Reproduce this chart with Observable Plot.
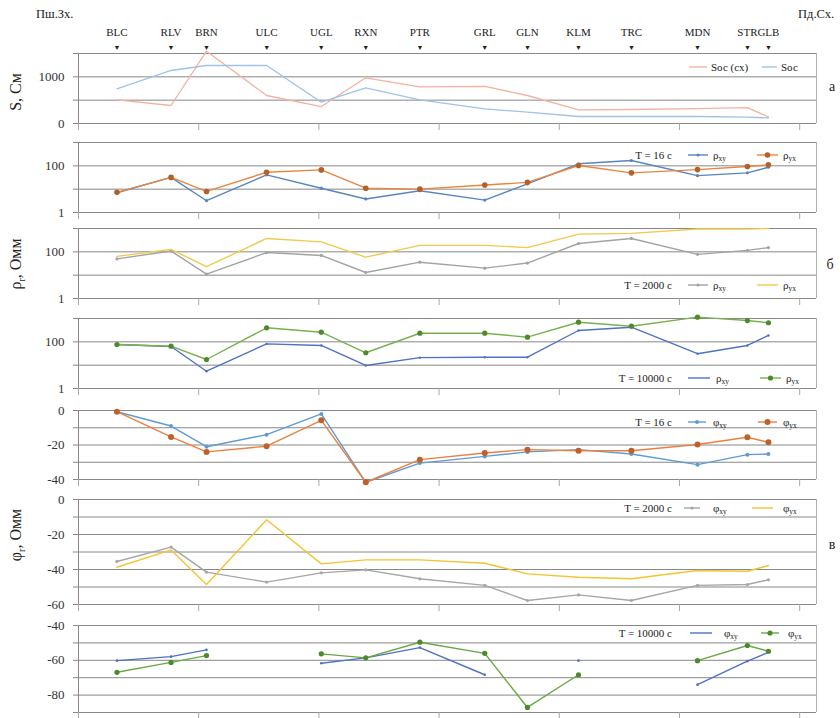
<!DOCTYPE html>
<html>
<head>
<meta charset="utf-8">
<script src="https://cdn.jsdelivr.net/npm/d3@7"></script>
<script src="https://cdn.jsdelivr.net/npm/@observablehq/plot@0.6"></script>
<style>
  html, body { margin: 0; padding: 0; background: #fff; }
  #chart { position: relative; width: 840px; height: 718px; overflow: hidden; }
  #chart svg { position: absolute; left: 0; }
  #chart svg, #chart svg text { font-family: "Liberation Serif", "Times New Roman", "DejaVu Serif", serif; }
</style>
</head>
<body>
<div id="chart"></div>
<script>
// Profile stations (west → east) and their distance along the profile, km
const stations = ["BLC","RLV","BRN","ULC","UGL","RXN","PTR","GRL","GLN","KLM","TRC","MDN","STR","GLB"];
const distance = [32, 77, 106.5, 156.5, 202, 239, 284, 338, 373.5, 416, 460, 515, 556.5, 574];

// а) total longitudinal conductance, См
const sOcSx = [507, 386, 1550, 600, 364, 980, 785, 795, 600, 293, 300, 320, 340, 140];
const sOc   = [743, 1136, 1243, 1243, 457, 765, 507, 315, 243, 150, 150, 150, 135, 120];

// б) apparent resistivity, Омм
const rhoXy16    = [7, 32, 3.2, 41, 11, 3.8, 8.6, 3.4, 17, 122, 169, 38, 50, 87];
const rhoYx16    = [7.3, 32, 8, 53, 67, 11, 10, 15, 19.6, 103, 50, 69, 93, 110];
const rhoXy2000  = [50, 108, 11, 93, 70, 13, 36, 20, 33, 228, 374, 78, 116, 152];
const rhoYx2000  = [64, 128, 23, 374, 268, 59, 190, 190, 152, 575, 617, 950, 950, 1000];
const rhoXy10000 = [77, 63, 5.5, 82, 70, 9.7, 21, 22, 22, 306, 424, 31, 70, 187];
const rhoYx10000 = [77, 65, 17.5, 400, 259, 34, 234, 234, 158, 693, 468, 1140, 818, 656];

// в) impedance phase
const phiXy16    = [-0.7, -9, -21, -14, -2, -41.6, -30.5, -26.6, -24, -22.7, -25.2, -31.4, -25.6, -25.2];
const phiYx16    = [-0.7, -15.3, -24, -20.7, -5.7, -41.6, -28.5, -24.6, -22.7, -23.3, -23.3, -19.7, -15.5, -18.4];
const phiXy2000  = [-35.4, -27.2, -41.5, -47.2, -41.9, -40.2, -45.3, -49.1, -57.7, -54.5, -57.7, -49.1, -48.6, -45.9];
const phiYx2000  = [-38.7, -28.8, -48.6, -11.6, -36.8, -34.5, -34.5, -36.4, -42.5, -44.4, -45.3, -40.6, -41, -37.7];
const phiXy10000 = [-60.2, -57.9, -54, null, -61.7, -58.6, -52.7, -68.3, null, -60.2, null, -74, -60.5, -55.4];
const phiYx10000 = [-66.9, -61.2, -57.3, null, -56.3, -58.6, -49.6, -56, -87.1, -68.3, null, -60.2, -51.5, -54.8];

// axis ticks
const xTicks = [0, 100, 200, 300, 400, 500, 600];
const sGrid = [0, 500, 1000, 1500], sLabels = [0, 1000];
const rhoGrid = [1, 10, 100, 1000], rhoLabels = [1, 100];
const phi16Grid = [-40, -30, -20, -10, 0], phi16Labels = [-40, -20, 0];
const phi2000Grid = [-60, -50, -40, -30, -20, -10, 0], phi2000Labels = [-60, -40, -20, 0];
const phi10000Grid = [-90, -80, -70, -60, -50, -40], phi10000Labels = [-80, -60, -40];

const FONT = "'Liberation Serif', 'Times New Roman', 'DejaVu Serif', serif";
const W = 840, ML = 78, MR = 24;
const xDomain = [0, 614];
const chart = document.getElementById("chart");

const rows = values => stations.map((s, i) => ({station: s, x: distance[i], v: values[i]}));

function panel({frameTop, frameBottom, y, grid, labels, series, header = false, mb = 10}) {
  const mt = header ? frameTop : 8;
  const top = frameTop - mt;
  const height = Math.round(frameBottom - frameTop + mt + mb);
  const marks = [
    Plot.gridY(grid, {stroke: "#888", strokeOpacity: 1, strokeWidth: 1}),
    Plot.axisY(grid, {
      tickSize: 5, tickPadding: 9, stroke: "#888", label: null, fontSize: 13, fill: "#333",
      tickFormat: d => labels.includes(d) ? String(d) : ""
    }),
    Plot.axisX(xTicks, {tickSize: 7, stroke: "#a8a8a8", label: null, tickFormat: () => ""}),
    Plot.ruleX([xDomain[0]], {stroke: "#888"}),
    Plot.ruleX([xDomain[1]], {stroke: "#b0b0b0"})
  ];
  if (header) {
    const st = rows(stations.map(() => 0));
    marks.push(Plot.text(st, {x: "x", text: "station", frameAnchor: "top", dy: -25, fontSize: 11, fill: "#222"}));
    marks.push(Plot.text(st, {x: "x", text: () => "▼", frameAnchor: "top", dy: -8, fontSize: 7, fill: "#222", fontFamily: "DejaVu Sans"}));
  }
  for (const s of series) {
    const d = rows(s.values);
    marks.push(Plot.line(d, {x: "x", y: "v", stroke: s.color, strokeWidth: s.width ?? 1.4}));
    if (s.r) marks.push(Plot.dot(d.filter(p => p.v != null), {x: "x", y: "v", r: s.r, fill: s.marker ?? s.color, stroke: "none"}));
  }
  const svg = Plot.plot({
    width: W, height,
    marginLeft: ML, marginRight: MR, marginTop: mt, marginBottom: mb,
    x: {domain: xDomain},
    y: {...y},
    style: {fontFamily: FONT, background: "transparent", overflow: "visible"},
    marks
  });
  svg.style.top = top + "px";
  chart.appendChild(svg);
}

// а
panel({
  header: true, frameTop: 53, frameBottom: 123,
  y: {domain: [0, 1500]}, grid: sGrid, labels: sLabels,
  series: [
    {values: sOcSx, color: "#f3b2a2", width: 1.3},
    {values: sOc, color: "#9fc2e6", width: 1.3}
  ]
});
// б
panel({
  frameTop: 142, frameBottom: 212,
  y: {type: "log", domain: [1, 1000]}, grid: rhoGrid, labels: rhoLabels,
  series: [
    {values: rhoXy16, color: "#5a84bf", r: 1.6},
    {values: rhoYx16, color: "#e8863e", r: 2.8, marker: "#b5602a"}
  ]
});
panel({
  frameTop: 228, frameBottom: 297.5,
  y: {type: "log", domain: [1, 1000]}, grid: rhoGrid, labels: rhoLabels,
  series: [
    {values: rhoXy2000, color: "#a3a3a3", r: 1.6},
    {values: rhoYx2000, color: "#f2c94c"}
  ]
});
panel({
  frameTop: 318, frameBottom: 388,
  y: {type: "log", domain: [1, 1000]}, grid: rhoGrid, labels: rhoLabels,
  series: [
    {values: rhoXy10000, color: "#4f72c2", r: 1.2},
    {values: rhoYx10000, color: "#7ab04e", r: 2.6, marker: "#4d8a2e"}
  ]
});
// в
panel({
  frameTop: 409.5, frameBottom: 478,
  y: {domain: [-40, 0]}, grid: phi16Grid, labels: phi16Labels,
  series: [
    {values: phiXy16, color: "#5f9bd2", r: 2},
    {values: phiYx16, color: "#ea8040", r: 3, marker: "#bf602a"}
  ]
});
panel({
  frameTop: 499, frameBottom: 604,
  y: {domain: [-60, 0]}, grid: phi2000Grid, labels: phi2000Labels,
  series: [
    {values: phiXy2000, color: "#a6a6a6", r: 1.6},
    {values: phiYx2000, color: "#f4c430"}
  ]
});
panel({
  frameTop: 625, frameBottom: 712, mb: 6,
  y: {domain: [-90, -40]}, grid: phi10000Grid, labels: phi10000Labels,
  series: [
    {values: phiXy10000, color: "#4f72c2", r: 1.3},
    {values: phiYx10000, color: "#6aa843", r: 2.6, marker: "#4a8a2c"}
  ]
});

// Titles, panel letters and legends
const ov = d3.select(chart).append("svg")
  .attr("width", W).attr("height", 718)
  .style("top", "0px")
  .style("font-family", FONT)
  .attr("fill", "#222");

ov.append("text").attr("x", 36).attr("y", 18).attr("font-size", 12.5).text("Пш.Зх.");
ov.append("text").attr("x", 798).attr("y", 18).attr("font-size", 12.5).text("Пд.Сх.");

[["а", 832, 91], ["б", 830, 269], ["в", 832, 549]].forEach(([t, x, y]) =>
  ov.append("text").attr("x", x).attr("y", y).attr("font-size", 14).attr("text-anchor", "middle").text(t));

function yTitle(cy, main, sub, rest) {
  const t = ov.append("text")
    .attr("transform", `translate(21,${cy}) rotate(-90)`)
    .attr("text-anchor", "middle").attr("font-size", 16);
  t.append("tspan").text(main);
  if (sub) t.append("tspan").attr("font-size", 10).attr("dy", 4).text(sub);
  t.append("tspan").attr("dy", sub ? -4 : 0).text(rest);
}
yTitle(92, "S", null, ", См");
yTitle(264, "ρ", "r", ", Омм");
yTitle(535, "φ", "r", ", Омм");

function symbolText(g, x, y, main, sub) {
  const t = g.append("text").attr("x", x).attr("y", y).attr("font-size", 11);
  t.append("tspan").text(main);
  if (sub) t.append("tspan").attr("font-size", 7.5).attr("dy", 2.5).text(sub);
}

function legend(cy, title, items) {
  const g = ov.append("g");
  if (title) g.append("text").attr("x", 672).attr("y", cy + 3.5).attr("font-size", 11)
    .attr("text-anchor", "end").text(title);
  for (const it of items) {
    g.append("line").attr("x1", it.x1).attr("x2", it.x2).attr("y1", cy).attr("y2", cy)
      .attr("stroke", it.color).attr("stroke-width", 1.4);
    if (it.r) g.append("circle").attr("cx", (it.x1 + it.x2) / 2).attr("cy", cy).attr("r", it.r)
      .attr("fill", it.marker ?? it.color);
    symbolText(g, it.tx, cy + 3.5, it.main, it.sub);
  }
}

legend(67, null, [
  {x1: 689, x2: 707, color: "#f3b2a2", tx: 711, main: "Sос (сх)"},
  {x1: 762, x2: 777, color: "#9fc2e6", tx: 781, main: "Sос"}
]);
legend(155, "T = 16 с", [
  {x1: 688, x2: 708, color: "#5a84bf", r: 1.6, tx: 713, main: "ρ", sub: "xy"},
  {x1: 757, x2: 778, color: "#e8863e", r: 2.8, marker: "#b5602a", tx: 783, main: "ρ", sub: "yx"}
]);
legend(285, "T = 2000 с", [
  {x1: 688, x2: 708, color: "#a3a3a3", r: 1.6, tx: 713, main: "ρ", sub: "xy"},
  {x1: 757, x2: 778, color: "#f2c94c", tx: 783, main: "ρ", sub: "yx"}
]);
legend(378, "T = 10000 с", [
  {x1: 688, x2: 710, color: "#4f72c2", tx: 716, main: "ρ", sub: "xy"},
  {x1: 760, x2: 781, color: "#7ab04e", r: 2.6, marker: "#4d8a2e", tx: 786, main: "ρ", sub: "yx"}
]);
legend(422, "T = 16 с", [
  {x1: 688, x2: 706, color: "#5f9bd2", r: 2, tx: 713, main: "φ", sub: "xy"},
  {x1: 758, x2: 777, color: "#ea8040", r: 3, marker: "#bf602a", tx: 783, main: "φ", sub: "yx"}
]);
legend(508, "T = 2000 с", [
  {x1: 684, x2: 700, color: "#a6a6a6", r: 1.6, tx: 713, main: "φ", sub: "xy"},
  {x1: 752, x2: 773, color: "#f4c430", tx: 783, main: "φ", sub: "yx"}
]);
legend(633, "T = 10000 с", [
  {x1: 690, x2: 712, color: "#4f72c2", tx: 724, main: "φ", sub: "xy"},
  {x1: 761, x2: 779, color: "#6aa843", r: 2.6, marker: "#4a8a2c", tx: 788, main: "φ", sub: "yx"}
]);
</script>
</body>
</html>
